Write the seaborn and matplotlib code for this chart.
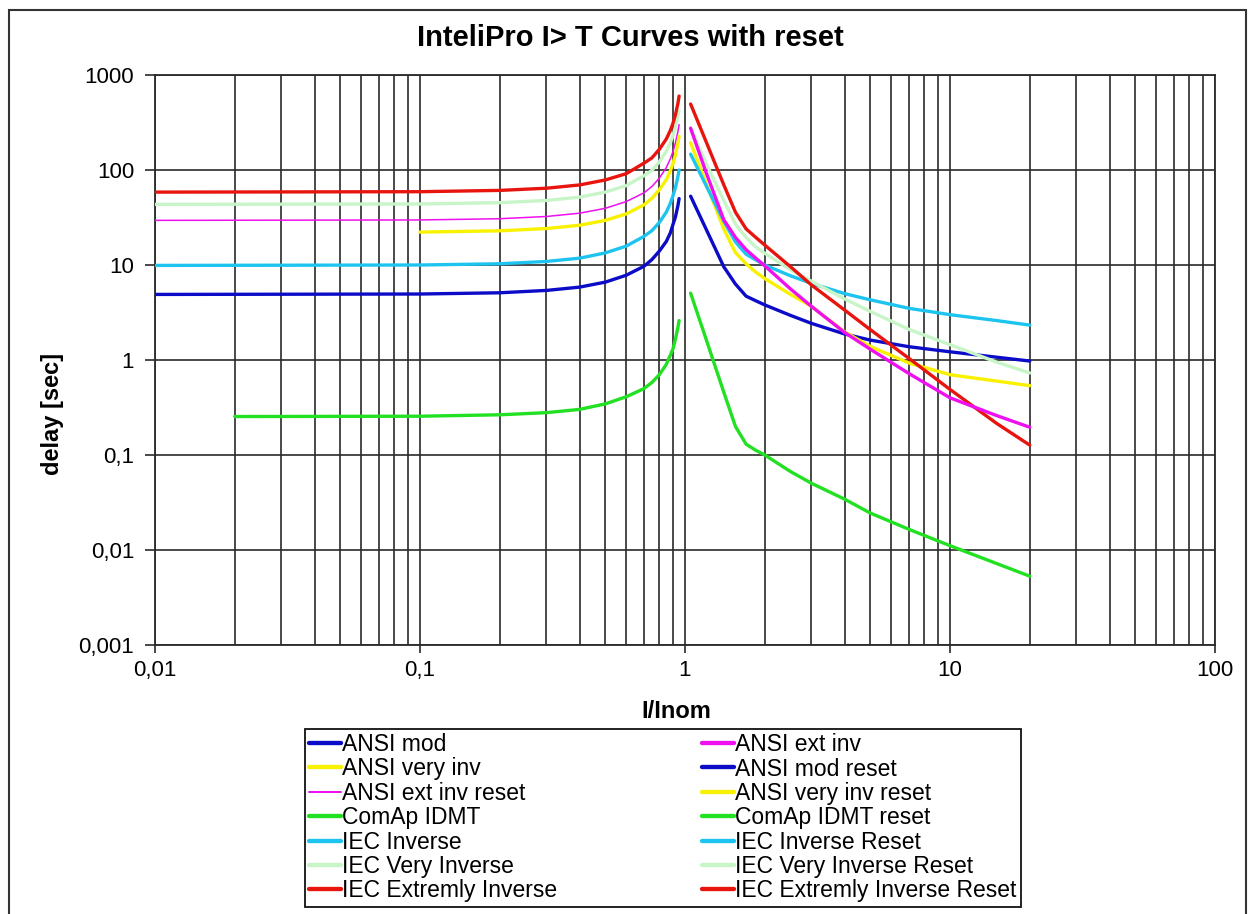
import matplotlib
matplotlib.use("Agg")
import matplotlib.pyplot as plt
import matplotlib.ticker as mticker
from matplotlib.patches import Rectangle
import seaborn as sns

# reset side (I/Inom < 1)
x_reset = [0.01, 0.1, 0.2, 0.3, 0.4, 0.5, 0.6, 0.7, 0.75, 0.8, 0.85, 0.88, 0.9, 0.92, 0.94, 0.95]
x_reset_vi = [0.1, 0.2, 0.3, 0.4, 0.5, 0.6, 0.7, 0.75, 0.8, 0.85, 0.88, 0.9, 0.92, 0.94, 0.95]
x_reset_comap = [0.02, 0.1, 0.2, 0.3, 0.4, 0.5, 0.6, 0.7, 0.75, 0.8, 0.85, 0.88, 0.9, 0.92, 0.94, 0.95]

ansi_mod_reset = [4.9, 4.95, 5.1, 5.4, 5.85, 6.6, 7.8, 9.7, 11.4, 14.0, 17.7, 21.7, 26.5, 32, 42, 50]
ansi_vi_reset = [22.2, 22.9, 24.2, 26.2, 29.5, 34.5, 43.0, 50.3, 62.0, 79.0, 97.5, 116, 143, 189, 226]
ansi_ei_reset = [29.5, 29.8, 30.7, 32.4, 35.1, 39.5, 46.5, 57.5, 67, 82, 106, 131, 155, 192, 253, 300]
comap_reset = [0.254, 0.256, 0.265, 0.279, 0.302, 0.345, 0.41, 0.50, 0.58, 0.70, 0.90, 1.12, 1.30, 1.65, 2.2, 2.6]
iec_inv_reset = [9.9, 10.0, 10.3, 10.9, 11.8, 13.4, 15.8, 20.0, 23.0, 28.0, 36.0, 44.5, 53, 65, 85, 100]
iec_vi_reset = [43.5, 43.9, 45.3, 47.8, 51.8, 58.5, 68.5, 87, 99, 122, 157, 193, 228, 283, 370, 420]
iec_ei_reset = [58.5, 59.1, 61.0, 64.3, 69.6, 78.5, 91.5, 118, 134, 165, 212, 260, 308, 380, 500, 600]

# trip side (I/Inom > 1)
x_trip = [1.05, 1.2, 1.4, 1.55, 1.7, 1.85, 2, 2.5, 3, 4, 5, 7, 10, 15, 20]
ansi_mod = [53, 24, 9.6, 6.3, 4.7, 4.2, 3.8, 2.95, 2.43, 1.88, 1.62, 1.38, 1.22, 1.07, 0.975]
ansi_vi = [194, 73, 24, 13.5, 10.3, 8.4, 7.2, 4.9, 3.67, 1.98, 1.39, 0.93, 0.70, 0.60, 0.537]
ansi_ei = [275, 95, 30, 19.5, 14.5, 11.8, 9.8, 5.6, 3.67, 1.95, 1.3, 0.72, 0.40, 0.26, 0.196]
comap = [5.05, 1.67, 0.46, 0.20, 0.13, 0.112, 0.10, 0.067, 0.0504, 0.0343, 0.0245, 0.0165, 0.0111, 0.0072, 0.0053]
iec_inv = [147, 69, 29, 17.5, 13.0, 11.3, 10.0, 7.7, 6.4, 5.0, 4.3, 3.5, 3.0, 2.6, 2.33]
iec_vi = [280, 118, 48, 27, 19.5, 15.5, 13.3, 8.9, 6.75, 4.4, 3.25, 2.1, 1.45, 0.95, 0.73]
iec_ei = [495, 200, 70, 36, 24, 19.5, 16.2, 9.6, 6.16, 3.36, 2.09, 1.04, 0.49, 0.215, 0.127]

x_ticks = [0.01, 0.1, 1, 10, 100]
x_tick_labels = ["0,01", "0,1", "1", "10", "100"]
y_ticks = [0.001, 0.01, 0.1, 1, 10, 100, 1000]
y_tick_labels = ["0,001", "0,01", "0,1", "1", "10", "100", "1000"]

BLUE = "#0b0bc8"
MAGENTA = "#ee10ee"
YELLOW = "#f8f200"
GREEN = "#22e022"
CYAN = "#1ec4f0"
PALE = "#c8f5c8"
RED = "#e8140e"

sns.set_theme(style="white")
plt.rcParams["font.family"] = ["Liberation Sans", "DejaVu Sans"]
plt.rcParams["text.color"] = "black"
plt.rcParams["axes.labelcolor"] = "black"

fig = plt.figure(figsize=(12.49, 9.14), dpi=100)
ax = fig.add_axes([155 / 1249, 1 - 645 / 914, 1060 / 1249, 570 / 914])
ax.set_xscale("log")
ax.set_yscale("log")

thick = 2.4
series = [
    (x_trip, ansi_mod, BLUE, thick, "ANSI mod"),
    (x_trip, ansi_vi, YELLOW, thick, "ANSI very inv"),
    (x_reset, ansi_ei_reset, MAGENTA, 1.1, "ANSI ext inv reset"),
    (x_trip, comap, GREEN, thick, "ComAp IDMT"),
    (x_trip, iec_inv, CYAN, thick, "IEC Inverse"),
    (x_trip, iec_vi, PALE, thick, "IEC Very Inverse"),
    (x_trip, iec_ei, RED, thick, "IEC Extremly Inverse"),
    (x_trip, ansi_ei, MAGENTA, thick, "ANSI ext inv"),
    (x_reset, ansi_mod_reset, BLUE, thick, "ANSI mod reset"),
    (x_reset_vi, ansi_vi_reset, YELLOW, thick, "ANSI very inv reset"),
    (x_reset_comap, comap_reset, GREEN, thick, "ComAp IDMT reset"),
    (x_reset, iec_inv_reset, CYAN, thick, "IEC Inverse Reset"),
    (x_reset, iec_vi_reset, PALE, thick, "IEC Very Inverse Reset"),
    (x_reset, iec_ei_reset, RED, thick, "IEC Extremly Inverse Reset"),
]
for xs, ys, col, lw, lab in series:
    sns.lineplot(x=xs, y=ys, color=col, linewidth=lw, label=lab, ax=ax, zorder=3)

ax.set_xlim(0.01, 100)
ax.set_ylim(0.001, 1000)
ax.xaxis.set_major_locator(mticker.FixedLocator(x_ticks))
ax.xaxis.set_major_formatter(mticker.FixedFormatter(x_tick_labels))
ax.xaxis.set_minor_locator(mticker.LogLocator(base=10, subs=range(2, 10), numticks=20))
ax.xaxis.set_minor_formatter(mticker.NullFormatter())
ax.yaxis.set_major_locator(mticker.FixedLocator(y_ticks))
ax.yaxis.set_major_formatter(mticker.FixedFormatter(y_tick_labels))
ax.yaxis.set_minor_locator(mticker.NullLocator())

gc = "#2a2a2a"
ax.grid(which="major", axis="both", color=gc, linewidth=1.2)
ax.grid(which="minor", axis="x", color=gc, linewidth=1.2)
ax.tick_params(axis="y", which="major", direction="out", length=7, width=1.2, color=gc,
               labelsize=16, pad=8, left=True, labelcolor="black")
ax.tick_params(axis="x", which="major", direction="out", length=6, width=1.2, color=gc,
               labelsize=16, pad=5, bottom=True, labelcolor="black")
ax.tick_params(which="minor", length=0)
for sp in ax.spines.values():
    sp.set_color(gc)
    sp.set_linewidth(1.3)

ax.set_xlabel("I/Inom", fontsize=17, fontweight="bold")
ax.set_ylabel("delay [sec]", fontsize=17, fontweight="bold")
ax.xaxis.set_label_coords(0.4915, -0.097)
ax.yaxis.set_label_coords(-0.086, 0.405)

fig.text(630 / 1249, 1 - 38 / 914, "InteliPro I> T Curves with reset",
         ha="center", va="center", fontsize=21, fontweight="bold")

leg = ax.legend(loc="upper left", bbox_to_anchor=(305 / 1249, 1 - 729 / 914),
                bbox_transform=fig.transFigure, ncol=2, fontsize=16.5,
                frameon=True, fancybox=False, edgecolor="#111", framealpha=1,
                borderaxespad=0, borderpad=0.18, labelspacing=0.06,
                handlelength=1.4, handletextpad=0.05, columnspacing=6.3)
leg.get_frame().set_linewidth(1.3)
for line in leg.get_lines():
    line.set_linewidth(line.get_linewidth() * 1.3)

fig.patches.append(Rectangle((9 / 1249, -0.01), 1237 / 1249, 1 - 10 / 914 + 0.01,
                             transform=fig.transFigure, fill=False,
                             edgecolor="#333", linewidth=1.5))

fig.savefig("out.png", dpi=100)
